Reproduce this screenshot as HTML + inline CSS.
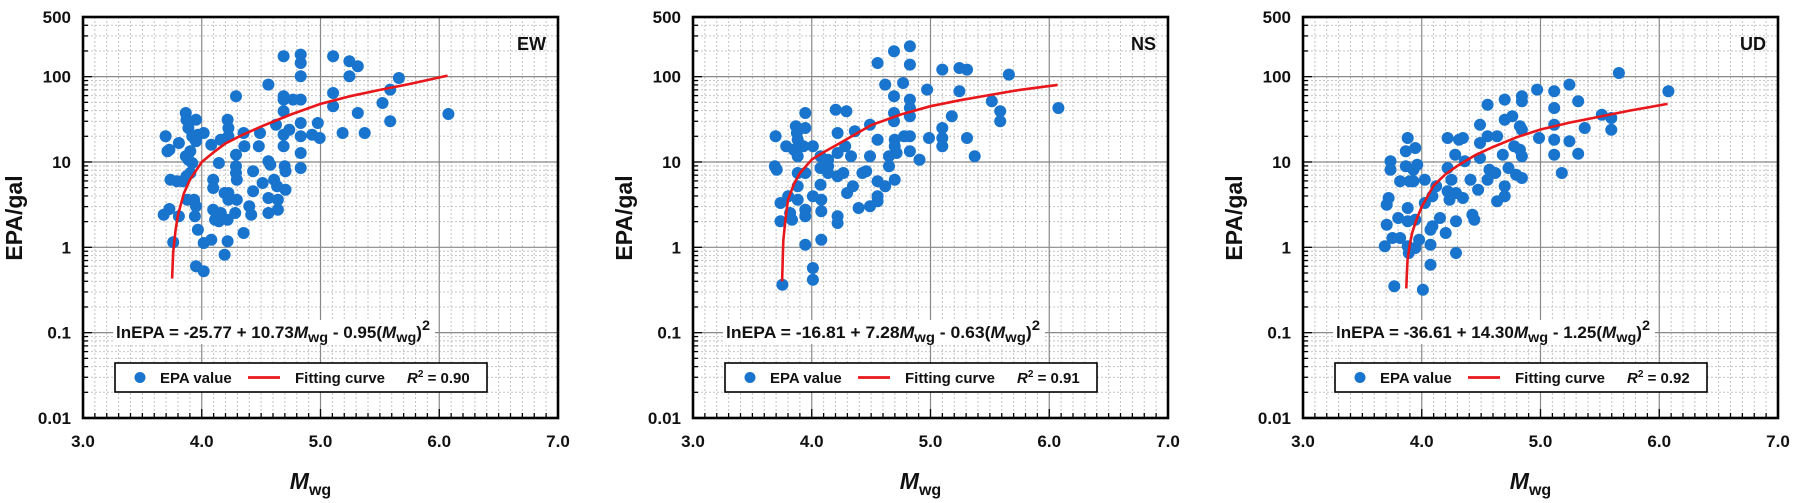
<!DOCTYPE html>
<html><head><meta charset="utf-8"><style>
html,body{margin:0;padding:0;background:#fff;}
svg{display:block;font-family:"Liberation Sans",Arial,sans-serif;font-weight:bold;}
</style></head><body>
<svg id="s" width="1801" height="503" xmlns="http://www.w3.org/2000/svg"></svg>
<script>
const S=document.getElementById('s');
let out='';
const TOP=17,BOT=418,DEC=(BOT-TOP)/Math.log10(50000),W=475;
const panels=[
{L:83,lab:'EW',eq:['-25.77','10.73','0.95'],r2:'0.90',zl:218,
curve:[[3.75,0.43],[3.76,0.88],[3.78,1.6],[3.8,2.4],[3.85,4.3],[3.9,6.2],[4.0,10],[4.1,13],[4.2,16.5],[4.35,21],[4.5,26],[4.75,36],[5.0,48],[5.25,59],[5.5,70],[5.75,82],[6.07,103]],
pts:[[435,410],[440,455],[445,450],[448,540],[430,645],[445,628],[455,728],[470,430],[465,545],[470,650],[480,545],[488,340],[490,360],[495,385],[488,470],[495,480],[500,455],[505,490],[500,520],[490,530],[492,600],[510,600],[515,620],[512,650],[505,410],[515,360],[515,425],[520,405],[535,400],[520,690],[515,800],[535,815],[535,730],[555,720],[555,435],[560,540],[560,565],[560,630],[565,660],[575,490],[575,665],[580,640],[580,420],[590,580],[598,360],[600,385],[600,410],[600,580],[600,600],[598,660],[598,725],[590,765],[620,290],[620,465],[620,500],[620,520],[622,540],[622,600],[618,640],[640,400],[642,440],[655,620],[660,645],[640,700],[665,515],[665,575],[680,440],[683,400],[690,550],[705,255],[705,485],[710,495],[705,595],[705,640],[720,540],[725,375],[728,560],[730,600],[730,630],[745,170],[745,290],[745,300],[745,335],[745,405],[745,440],[748,500],[750,515],[750,570],[760,390],[770,300],[790,165],[790,190],[790,230],[790,300],[790,370],[790,410],[790,460],[790,505],[820,405],[835,370],[840,415],[875,170],[875,280],[875,320],[900,400],[918,185],[918,230],[940,200],[940,340],[958,400],[1005,310],[1025,270],[1025,365],[1048,235],[1178,343]]},
{L:693,lab:'NS',eq:['-16.81','7.28','0.63'],r2:'0.91',zl:245,
curve:[[3.75,0.4],[3.755,0.7],[3.76,1.2],[3.78,2.2],[3.8,3.6],[3.85,5.5],[3.9,7.4],[4.0,10.7],[4.1,13],[4.25,17],[4.5,27],[4.75,36],[5.0,45],[5.25,53],[5.5,61],[5.75,70],[6.07,80]],
pts:[[462,410],[460,500],[465,510],[475,610],[475,665],[480,855],[490,440],[495,590],[500,640],[505,660],[510,450],[515,380],[518,400],[520,420],[520,470],[520,520],[520,560],[520,600],[535,440],[540,340],[540,385],[540,520],[540,630],[540,650],[540,735],[560,440],[560,590],[560,805],[560,840],[580,470],[580,505],[580,555],[582,600],[582,635],[582,720],[600,480],[600,520],[600,500],[620,330],[625,400],[625,460],[625,530],[625,650],[625,670],[640,520],[645,440],[648,335],[650,580],[660,470],[665,560],[670,395],[680,625],[690,520],[700,515],[710,375],[710,470],[710,620],[730,190],[730,420],[730,545],[730,590],[730,605],[750,255],[750,560],[760,470],[760,500],[773,155],[773,290],[773,340],[773,365],[775,420],[775,440],[775,540],[780,460],[797,250],[800,410],[815,140],[815,195],[815,300],[815,325],[815,350],[815,410],[815,455],[840,480],[860,270],[865,415],[900,210],[900,385],[900,415],[900,440],[925,350],[945,205],[945,275],[965,210],[965,415],[985,470],[1030,305],[1052,335],[1052,365],[1075,225],[1205,325]]},
{L:1303,lab:'UD',eq:['-36.61','14.30','1.25'],r2:'0.92',zl:270,
curve:[[3.87,0.33],[3.875,0.5],[3.88,0.7],[3.9,1.1],[3.92,1.5],[3.96,2.2],[4.0,3],[4.1,5.3],[4.2,7.2],[4.3,9],[4.45,12],[4.6,15],[4.8,19.5],[5.0,24],[5.25,29],[5.5,34],[5.75,40],[6.07,48]],
pts:[[485,740],[490,675],[490,615],[495,595],[500,485],[500,510],[505,715],[510,860],[520,655],[525,715],[525,545],[540,500],[540,455],[545,415],[545,625],[545,665],[550,545],[545,740],[548,760],[560,510],[560,545],[565,445],[565,660],[565,745],[570,495],[575,720],[590,610],[590,540],[585,870],[605,795],[605,735],[605,690],[610,680],[610,590],[620,560],[630,655],[645,700],[650,415],[650,505],[650,575],[655,600],[660,540],[670,465],[672,580],[672,665],[672,760],[680,420],[690,595],[690,415],[695,485],[710,540],[715,645],[720,660],[730,570],[735,375],[735,475],[735,430],[755,315],[755,410],[755,540],[760,510],[775,520],[780,410],[780,605],[795,465],[800,300],[800,560],[800,590],[800,360],[810,505],[820,350],[825,440],[830,525],[840,380],[840,450],[845,290],[845,305],[845,390],[845,535],[845,470],[885,270],[890,415],[930,275],[930,325],[930,375],[930,420],[930,465],[950,520],[970,255],[970,425],[993,305],[993,462],[1010,385],[1055,345],[1080,355],[1080,390],[1100,220],[1230,275]]}
];
function Y(v){return BOT-(Math.log10(v)+2)*DEC;}
panels.forEach(p=>{
 const L=p.L,R=L+W,X=m=>L+(m-3)*W/4;
 for(let i=1;i<40;i++){ if(i%10==0)continue; const x=X(3+i/10);
  out+=`<line x1="${x}" y1="${TOP}" x2="${x}" y2="${BOT}" stroke="#c4c4c4" stroke-width="1" stroke-dasharray="2,2"/>`;}
 for(let d=-2;d<=2;d++)for(let k=2;k<=9;k++){const v=k*Math.pow(10,d); if(v>500)continue; const y=Y(v);
  out+=`<line x1="${L}" y1="${y}" x2="${R}" y2="${y}" stroke="#c4c4c4" stroke-width="1" stroke-dasharray="2,2"/>`;}
 for(let m=4;m<=6;m++){const x=X(m);out+=`<line x1="${x}" y1="${TOP}" x2="${x}" y2="${BOT}" stroke="#888" stroke-width="1.2"/>`;}
 [0.1,1,10,100].forEach(v=>{const y=Y(v);out+=`<line x1="${L}" y1="${y}" x2="${R}" y2="${y}" stroke="#888" stroke-width="1.2"/>`;});
 for(let i=1;i<40;i++){const x=X(3+i/10),len=i%10==0?9:5;out+=`<line x1="${x}" y1="${BOT}" x2="${x}" y2="${BOT-len}" stroke="#000" stroke-width="1.3"/>`;}
 for(let d=-2;d<=2;d++)for(let k=1;k<=9;k++){const v=k*Math.pow(10,d); if(v>500)continue; const y=Y(v),len=k==1?9:5;
  out+=`<line x1="${L}" y1="${y}" x2="${L+len}" y2="${y}" stroke="#000" stroke-width="1.3"/>`;}
 p.pts.forEach(([zx,zy])=>{const m=3+(zx-p.zl)/312,lg=-2+(1255-zy)/256;
  out+=`<circle cx="${X(m).toFixed(1)}" cy="${(BOT-(lg+2)*DEC).toFixed(1)}" r="6" fill="#1874cd"/>`;});
 out+=`<polyline fill="none" stroke="#e8171b" stroke-width="2.6" points="${p.curve.map(([m,v])=>X(m).toFixed(1)+','+Y(v).toFixed(1)).join(' ')}"/>`;
 out+=`<rect x="${L+30}" y="${320}" width="322" height="24" fill="#fff"/>`;
 out+=`<text x="${L+33}" y="338" font-size="16.5" fill="#111" textLength="314" lengthAdjust="spacingAndGlyphs">lnEPA = ${p.eq[0]} + ${p.eq[1]}<tspan font-style="italic">M</tspan><tspan font-size="14" dy="4">wg</tspan><tspan dy="-4"> - ${p.eq[2]}(</tspan><tspan font-style="italic">M</tspan><tspan font-size="14" dy="4">wg</tspan><tspan dy="-4">)</tspan><tspan font-size="14" dy="-8">2</tspan></text>`;
 out+=`<rect x="${L+32}" y="363" width="372" height="29" fill="#fff" stroke="#000" stroke-width="1.6"/>`;
 out+=`<circle cx="${L+57}" cy="377.5" r="5.5" fill="#1874cd"/>`;
 out+=`<text x="${L+77}" y="383" font-size="15" fill="#111">EPA value</text>`;
 out+=`<line x1="${L+165}" y1="377.5" x2="${L+197}" y2="377.5" stroke="#e8171b" stroke-width="2.8"/>`;
 out+=`<text x="${L+212}" y="383" font-size="15" fill="#111">Fitting curve</text>`;
 out+=`<text x="${L+324}" y="383" font-size="15" fill="#111"><tspan font-style="italic">R</tspan><tspan font-size="10" dy="-6">2</tspan><tspan dy="6"> = ${p.r2}</tspan></text>`;
 out+=`<rect x="${L}" y="${TOP}" width="${W}" height="${BOT-TOP}" fill="none" stroke="#000" stroke-width="2.6"/>`;
 out+=`<text x="${R-12}" y="50" font-size="18" text-anchor="end" fill="#111">${p.lab}</text>`;
 [['500',500],['100',100],['10',10],['1',1],['0.1',0.1],['0.01',0.01]].forEach(([t,v])=>{
  out+=`<text x="${L-12}" y="${Y(v)+6}" font-size="17" text-anchor="end" fill="#111">${t}</text>`;});
 ['3.0','4.0','5.0','6.0','7.0'].forEach((t,i)=>{out+=`<text x="${X(3+i)}" y="447" font-size="17" text-anchor="middle" fill="#111">${t}</text>`;});
 out+=`<text transform="translate(${L-61},218) rotate(-90)" font-size="23" text-anchor="middle" fill="#111">EPA/gal</text>`;
 out+=`<text x="${X(5)-10}" y="489" font-size="23" text-anchor="middle" fill="#111"><tspan font-style="italic">M</tspan><tspan font-size="16" dy="6">wg</tspan></text>`;
});
S.innerHTML=out;
</script>
</body></html>
